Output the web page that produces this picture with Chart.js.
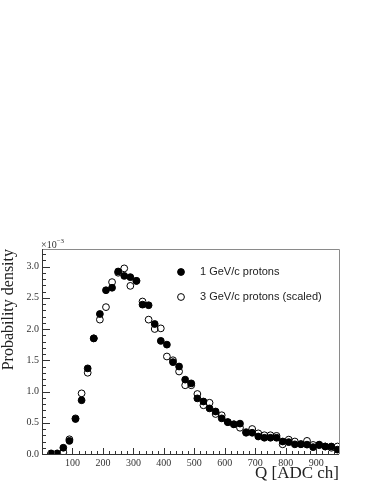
<!DOCTYPE html>
<html>
<head>
<meta charset="utf-8">
<script src="https://cdn.jsdelivr.net/npm/chart.js@4.4.1/dist/chart.umd.min.js"></script>
<style>
  body { margin: 0; background: #fff; }
  canvas { display: block; }
</style>
</head>
<body>
<canvas id="myChart" width="374" height="484"></canvas>
<script>
// Bin centres of the charge histogram (ADC channels)
var qBins = [30, 50, 70, 90, 110, 130, 150, 170, 190, 210, 230, 250, 270, 290, 310, 330,
  350, 370, 390, 410, 430, 450, 470, 490, 510, 530, 550, 570, 590, 610, 630, 650,
  670, 690, 710, 730, 750, 770, 790, 810, 830, 850, 870, 890, 910, 930, 950, 970];

// Probability density, in units of 1e-3
var oneGeV = [0.01, 0.01, 0.10, 0.21, 0.56, 0.86, 1.37, 1.85, 2.24, 2.62, 2.66, 2.92, 2.85, 2.83, 2.77, 2.39,
  2.38, 2.08, 1.81, 1.75, 1.47, 1.40, 1.19, 1.13, 0.89, 0.84, 0.73, 0.68, 0.57, 0.51, 0.475, 0.486,
  0.34, 0.34, 0.28, 0.26, 0.26, 0.26, 0.20, 0.19, 0.155, 0.155, 0.15, 0.11, 0.15, 0.12, 0.12, 0.07];

var threeGeV = [0.0, 0.0, 0.03, 0.235, 0.57, 0.97, 1.30, 1.85, 2.15, 2.35, 2.75, 2.90, 2.97, 2.69, 2.77, 2.44,
  2.15, 2.00, 2.01, 1.56, 1.50, 1.32, 1.10, 1.10, 0.96, 0.78, 0.82, 0.64, 0.62, 0.51, 0.475, 0.42,
  0.35, 0.40, 0.33, 0.30, 0.30, 0.29, 0.155, 0.23, 0.20, 0.16, 0.21, 0.145, 0.14, 0.12, 0.10, 0.12];

var seriesLabels = ["1 GeV/c protons", "3 GeV/c protons (scaled)"];
var xTickLabels = ["100", "200", "300", "400", "500", "600", "700", "800", "900"];
var yTickLabels = ["0.0", "0.5", "1.0", "1.5", "2.0", "2.5", "3.0"];

function toPoints(values) {
  return values.map((v, i) => ({ x: qBins[i], y: v }));
}

// Draws the ROOT-like frame, inward ticks, exponent and the legend box
var frameAndLegend = {
  id: "frameAndLegend",
  afterDatasetsDraw(chart) {
    var ctx = chart.ctx;
    var a = chart.chartArea;
    var xs = chart.scales.x, ys = chart.scales.y;
    ctx.save();
    ctx.lineWidth = 1;

    // top and right frame in grey
    ctx.strokeStyle = "#8a8a8a";
    ctx.beginPath();
    ctx.moveTo(a.left, a.top + 0.5);
    ctx.lineTo(a.right + 0.5, a.top + 0.5);
    ctx.lineTo(a.right + 0.5, a.bottom);
    ctx.stroke();

    // left and bottom axes
    ctx.strokeStyle = "#333";
    ctx.beginPath();
    ctx.moveTo(a.left + 0.5, a.top);
    ctx.lineTo(a.left + 0.5, a.bottom + 0.5);
    ctx.lineTo(a.right, a.bottom + 0.5);
    ctx.stroke();

    // y ticks every 0.1, major every 0.5
    ctx.beginPath();
    for (let i = 0; i <= 32; i++) {
      const py = Math.round(ys.getPixelForValue(i / 10)) + 0.5;
      const len = (i % 5 === 0) ? 8 : 4;
      ctx.moveTo(a.left, py);
      ctx.lineTo(a.left + len, py);
    }
    // x ticks every 20, major every 100
    for (let q = 0; q <= 960; q += 20) {
      const px = Math.round(xs.getPixelForValue(q)) + 0.5;
      const len = (q % 100 === 0) ? 6 : 3;
      ctx.moveTo(px, a.bottom);
      ctx.lineTo(px, a.bottom - len);
    }
    ctx.stroke();

    // exponent label
    ctx.fillStyle = "#333";
    ctx.textBaseline = "alphabetic";
    ctx.textAlign = "left";
    ctx.font = "10px 'Liberation Serif', serif";
    ctx.fillText("\u00d710", a.left - 1, a.top - 1);
    var w = ctx.measureText("\u00d710").width;
    ctx.font = "7px 'Liberation Serif', serif";
    ctx.fillText("\u22123", a.left - 1 + w, a.top - 6);

    // legend
    var rows = [a.top + 23, a.top + 48];
    chart.data.datasets.forEach((ds, i) => {
      ctx.beginPath();
      ctx.arc(181, rows[i], 3.4, 0, Math.PI * 2);
      ctx.fillStyle = ds.pointBackgroundColor;
      ctx.fill();
      ctx.strokeStyle = "#000";
      ctx.lineWidth = 1;
      ctx.stroke();
      ctx.fillStyle = "#222";
      ctx.font = "11px 'Liberation Sans', Arial, sans-serif";
      ctx.textBaseline = "middle";
      ctx.fillText(ds.label, 200, rows[i]);
    });
    ctx.restore();
  }
};

var ctx = document.getElementById("myChart");
var myChart = new Chart(ctx, {
  type: "scatter",
  data: {
    datasets: [
      {
        label: seriesLabels[0],
        data: toPoints(oneGeV),
        pointBackgroundColor: "#000",
        pointBorderColor: "#000",
        pointBorderWidth: 1,
        pointRadius: 3.4
      },
      {
        label: seriesLabels[1],
        data: toPoints(threeGeV),
        pointBackgroundColor: "rgba(0,0,0,0)",
        pointBorderColor: "#000",
        pointBorderWidth: 1,
        pointRadius: 3.4
      }
    ]
  },
  options: {
    responsive: false,
    animation: false,
    devicePixelRatio: 1,
    layout: { padding: { top: 249, right: 35, left: 0, bottom: 0 } },
    plugins: {
      legend: { display: false },
      tooltip: { enabled: false }
    },
    scales: {
      x: {
        type: "linear",
        min: 0,
        max: 975,
        afterFit: scale => { scale.height = 30; },
        afterBuildTicks: scale => {
          scale.ticks = xTickLabels.map(t => ({ value: Number(t) }));
        },
        grid: { display: false, drawTicks: false },
        border: { display: false },
        ticks: {
          padding: 3,
          maxRotation: 0,
          autoSkip: false,
          color: "#333",
          font: { family: "'Liberation Serif', serif", size: 10 },
          callback: v => String(v)
        },
        title: {
          display: true,
          text: "Q [ADC ch]",
          align: "end",
          color: "#222",
          padding: { top: 0, bottom: 2 },
          font: { family: "'Liberation Serif', serif", size: 17, lineHeight: 1 }
        }
      },
      y: {
        min: 0,
        max: 3.28,
        afterFit: scale => { scale.width = 42; },
        afterBuildTicks: scale => {
          scale.ticks = yTickLabels.map(t => ({ value: Number(t) }));
        },
        grid: { display: false, drawTicks: false },
        border: { display: false },
        ticks: {
          padding: 3,
          autoSkip: false,
          color: "#333",
          font: { family: "'Liberation Serif', serif", size: 10 },
          callback: v => v.toFixed(1)
        },
        title: {
          display: true,
          text: "Probability density",
          align: "end",
          color: "#222",
          padding: { top: 1, bottom: 0 },
          font: { family: "'Liberation Serif', serif", size: 16, lineHeight: 1 }
        }
      }
    }
  },
  plugins: [frameAndLegend]
});
</script>
</body>
</html>
